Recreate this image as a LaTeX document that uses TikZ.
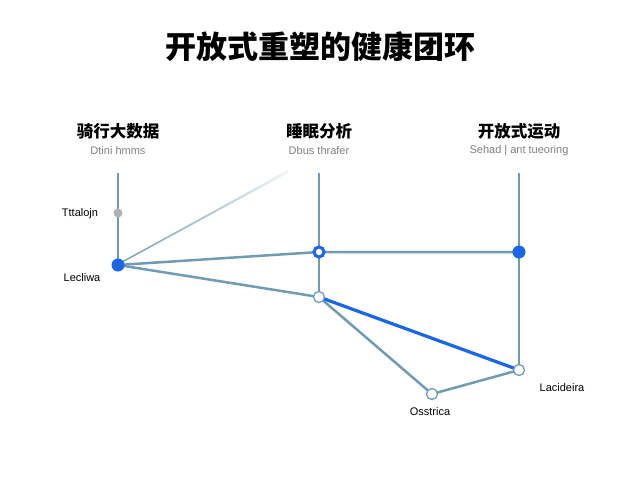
\documentclass[tikz,border=0pt]{standalone}
\usepackage{fontspec}
\setmainfont{Liberation Sans}
\newfontfamily\cjk{Noto Sans CJK SC}
\definecolor{linkc}{HTML}{6F9BB5}
\definecolor{dotc}{HTML}{1A66E8}
\begin{document}
\begin{tikzpicture}[x=1pt, y=-1pt,
    link/.style={draw=linkc, line width=2.5pt},
    head/.style={font=\cjk\bfseries\fontsize{16.5}{18}\selectfont},
    sub/.style={font=\fontsize{11}{13}\selectfont, text=gray},
    lbl/.style={font=\fontsize{11}{13}\selectfont}]
    \useasboundingbox (0,0) rectangle (640,480);
    \node[font=\cjk\bfseries\fontsize{31}{34}\selectfont] (T) at (320, 47) {开放式重塑的健康团环};
    \node[head] (H1) at (118, 131) {骑行大数据};
    \node[head] (H2) at (319, 131) {睡眠分析};
    \node[head] (H3) at (519, 131) {开放式运动};
    \node[sub] (S1) at (118, 151) {Dtini hmms};
    \node[sub] (S2) at (319, 151) {Dbus thrafer};
    \node[sub] (S3) at (519, 151) {Sehad | ant tueoring};
    \coordinate (V1) at (118, 173);
    \coordinate (V2) at (319, 173);
    \coordinate (V3) at (519, 173);
    \coordinate (Q) at (288, 170);
    % nodes
    \coordinate (A) at (118, 265);
    \coordinate (G) at (118, 213);
    \coordinate (B) at (319, 252);
    \coordinate (C) at (519, 252);
    \coordinate (D) at (319, 297);
    \coordinate (E) at (432, 394);
    \coordinate (F) at (519, 370);
    % links
    \draw[link] (V1) -- (A);
    \draw[link] (V2) -- (D);
    \draw[link] (V3) -- (F);
    \shade[left color=linkc, right color=linkc!10] (A) -- ++(0,-1.5) -- (Q) -- ++(0,3) -- cycle;
    \draw[link] (A) -- (B) -- (C);
    \draw[link] (A) -- (D);
    \draw[link] (D) -- (E) -- (F);
    \draw[draw=dotc, line width=3.2pt] (D) -- (F);
    % dots
    \fill[gray!60] (G) circle (4.5);
    \fill[dotc] (A) circle (6.5);
    \fill[dotc] (C) circle (6.5);
    \filldraw[fill=white, draw=dotc, line width=3pt] (B) circle (5);
    \foreach \n in {D, E, F}
        \filldraw[fill=white, draw=linkc, line width=1.3pt] (\n) circle (5.5);
    \node[lbl] (LG) at (80, 214) {Tttalojn};
    \node[lbl] (LA) at (82, 278) {Lecliwa};
    \node[lbl] (LE) at (430, 412) {Osstrica};
    \node[lbl] (LF) at (562, 388) {Lacideira};
\end{tikzpicture}
\end{document}
